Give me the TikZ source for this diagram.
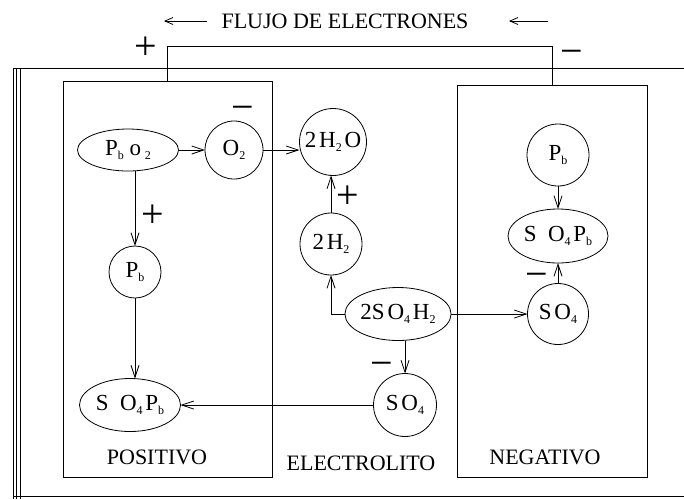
\documentclass[tikz,border=0pt]{standalone}
\usepackage{fontspec}
\setmainfont{Liberation Serif}
\usetikzlibrary{arrows.meta,shapes.geometric}
\newcommand\mychemfont{\fontsize{23}{23}\selectfont}
\newcommand\mylabfont{\fontsize{22}{22}\selectfont}
\newcommand\mysgnfont{\fontsize{40}{40}\selectfont}
\newcommand\mysb[1]{\raisebox{-0.15em}{\fontsize{12}{12}\selectfont #1}}
\newcommand\tsp{\hspace{0.12em}}
\begin{document}
\begin{tikzpicture}[x=1pt,y=-1pt,
  every node/.style={inner sep=0pt, outer sep=0pt},
  ln/.style={line width=0.8pt},
  arr/.style={ln, -{Straight Barb[length=12pt,width=8pt]}},
  tarr/.style={ln, -{Straight Barb[length=8pt,width=7pt]}},
  circ/.style={draw, ln, circle, font=\mychemfont},
  ell/.style={draw, ln, ellipse, minimum width=100pt, minimum height=53pt, font=\mychemfont},
  lab/.style={font=\mylabfont},
  sgn/.style={font=\mysgnfont, anchor=base},
  box/.style={draw, ln, rectangle}
]
\path[use as bounding box] (0,0) rectangle (684,499);

% container
\draw[ln] (13,68) -- (684,68);
\draw[ln] (13,496) -- (684,496);
\foreach \x in {13,16.5,20} \draw[ln] (\x,68) -- (\x,499);

% title
\node[lab] (title) at (345,21) {FLUJO DE ELECTRONES};
\coordinate (la1) at (207,21); \coordinate (la2) at (164,21);
\coordinate (ra1) at (548,21); \coordinate (ra2) at (509,21);
\draw[tarr] (la1) -- (la2);
\draw[tarr] (ra1) -- (ra2);

% electrode boxes
\node[box, minimum width=209pt, minimum height=396pt] (posbox) at (167.5,279) {};
\node[box, minimum width=190pt, minimum height=392pt] (negbox) at (552,281) {};
\draw[ln] (posbox.north) -- ++(0,-35) -| (negbox.north);

\node[lab] (poslab) at (157,457) {POSITIVO};
\node[lab] (ellab) at (361,463) {ELECTROLITO};
\node[lab] (neglab) at (545,457) {NEGATIVO};

% signs
\node[sgn] (s1) at (146,59) {+};
\node[sgn] (s2) at (572,64) {−};
\node[sgn] (s3) at (243,120) {−};
\node[sgn] (s4) at (153,227) {+};
\node[sgn] (s5) at (348,208) {+};
\node[sgn] (s6) at (537,287) {−};
\node[sgn] (s7) at (382,376) {−};

% species
\node[ell, minimum width=101pt, minimum height=42pt] (PbO2) at (128,150) {P\mysb{b}\ o\,\mysb{2}};
\node[circ, minimum size=58pt] (O2) at (234,150) {O\mysb{2}};
\node[circ, minimum size=67pt] (H2O) at (333,142) {2\tsp H\mysb{2}\tsp O};
\node[circ, minimum size=62pt] (H2) at (331,244) {2\tsp H\mysb{2}};
\node[ell] (SO4H2) at (398,314) {2S\tsp O\mysb{4}\tsp H\mysb{2}};
\node[circ, minimum size=61pt] (SO4r) at (558,314) {S\tsp O\mysb{4}};
\node[ell, minimum height=54pt] (SO4Pbr) at (558,236) {S\ \ O\mysb{4}\tsp P\mysb{b}};
\node[circ, minimum size=62pt] (Pbr) at (558,155) {P\mysb{b}};
\node[circ, minimum size=63pt] (SO4l) at (405,405) {S\tsp O\mysb{4}};
\node[ell, minimum width=101pt] (SO4Pbl) at (130,405) {S\ \ O\mysb{4}\tsp P\mysb{b}};
\node[circ, minimum size=52pt] (Pbl) at (135,272) {P\mysb{b}};

% reactions
\draw[arr] (PbO2.east) -- (O2.west);
\draw[arr] (O2.east) -- (O2.east -| H2O.west);
\draw[arr] (PbO2.south -| Pbl.north) -- (Pbl.north);
\draw[arr] (Pbl.south) -- (Pbl.south |- SO4Pbl.north);
\draw[arr] (H2.north) -- (H2.north |- H2O.south);
\draw[arr] (SO4H2.west) -| (H2.south);
\draw[arr] (SO4H2.east) -- (SO4r.west);
\draw[arr] (SO4H2.south -| SO4l.north) -- (SO4l.north);
\draw[arr] (SO4l.west) -- (SO4Pbl.east);
\draw[arr] (Pbr.south) -- (SO4Pbr.north);
\draw[arr] (SO4r.north) -- (SO4Pbr.south);
\end{tikzpicture}
\end{document}
